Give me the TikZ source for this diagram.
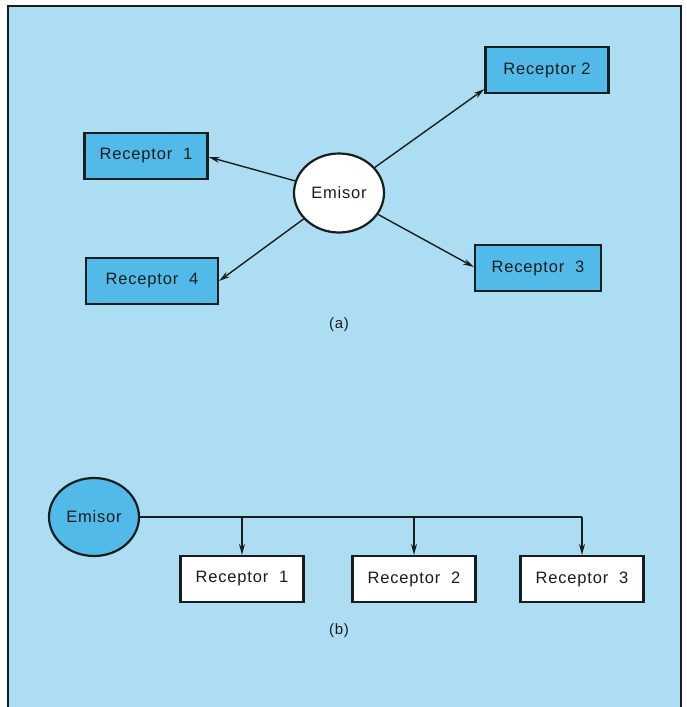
\documentclass[tikz,border=0pt]{standalone}
\usepackage{fontspec}
\setmainfont{Liberation Sans}[LetterSpace=5]
\usetikzlibrary{arrows.meta,calc,shapes.geometric}
\definecolor{bgblue}{RGB}{172,221,242}
\definecolor{boxblue}{RGB}{82,186,232}
\definecolor{ink}{RGB}{24,30,30}
\begin{document}
\begin{tikzpicture}[x=1pt,y=-1pt,
  every node/.style={font=\fontsize{16.5}{19}\selectfont, text=ink},
  rbox/.style={draw=ink, line width=2.2pt, minimum width=123pt, minimum height=46pt, inner sep=0pt},
  emi/.style={draw=ink, line width=2.2pt, ellipse, minimum width=90pt, minimum height=79pt, inner sep=0pt},
  conn/.style={draw=ink, line width=1.4pt, -{Stealth[length=11pt,width=6pt]}},
  lab/.style={font=\fontsize{15}{17}\selectfont}]
\useasboundingbox (0,0) rectangle (686,707);
\fill[white] (0,0) rectangle (686,707);
\draw[ink, line width=2pt, fill=bgblue] (8,720) -- (8,6) -- (681,6) -- (681,720);
% (a)
\node[emi, fill=white] (E) at (339,193) {Emisor};
\node[rbox, fill=boxblue] (R1) at (146,156) {Receptor\ \ 1};
\node[rbox, fill=boxblue] (R2) at (547,70) {Receptor 2};
\node[rbox, fill=boxblue, minimum width=126pt] (R3) at (538,268) {Receptor\ \ 3};
\node[rbox, fill=boxblue, minimum width=132pt] (R4) at (152,281) {Receptor\ \ 4};
\node[lab] (la) at (339,325) {(a)};
\draw[conn] (E) -- ([yshift=5pt]R2.south west);
\draw[conn] (E) -- ([yshift=-1pt]R1.east);
\draw[conn] (E) -- (R4.east);
\draw[conn] (E) -- ([yshift=1pt]R3.west);
% (b)
\node[emi, fill=boxblue, minimum height=78pt] (Eb) at (94,517) {Emisor};
\node[rbox, fill=white] (B1) at (242,579) {Receptor\ \ 1};
\node[rbox, fill=white] (B2) at (414,579) {Receptor\ \ 2};
\node[rbox, fill=white] (B3) at (582,579) {Receptor\ \ 3};
\node[lab] (lb) at (339,631) {(b)};
\coordinate (j1) at (B1.north |- Eb.east);
\coordinate (j2) at (B2.north |- Eb.east);
\coordinate (j3) at (B3.north |- Eb.east);
\draw[ink, line width=1.4pt] (Eb.east) -- (j3);
\draw[conn] (j1) -- (B1.north);
\draw[conn] (j2) -- (B2.north);
\draw[conn] (j3) -- (B3.north);
\end{tikzpicture}
\end{document}
